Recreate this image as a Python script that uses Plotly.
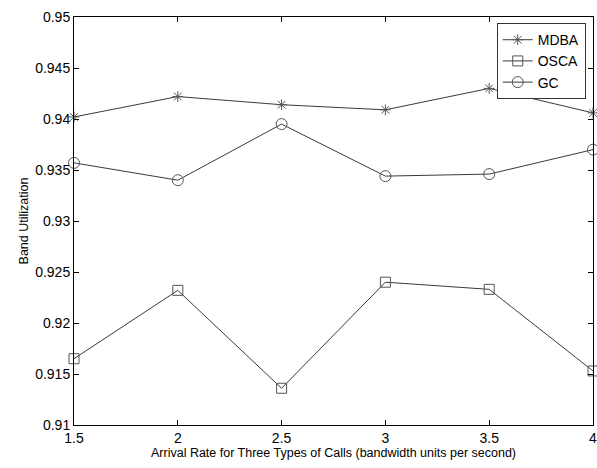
import plotly.graph_objects as go

arrival_rate = [1.5, 2, 2.5, 3, 3.5, 4]
mdba = [0.9402, 0.9422, 0.9414, 0.9409, 0.9430, 0.9406]
osca = [0.9165, 0.9232, 0.9136, 0.9240, 0.9233, 0.9153]
gc = [0.9357, 0.9340, 0.9395, 0.9344, 0.9346, 0.9370]

x_ticks = [1.5, 2, 2.5, 3, 3.5, 4]
x_ticktext = ["1.5", "2", "2.5", "3", "3.5", "4"]
y_ticks = [0.91, 0.915, 0.92, 0.925, 0.93, 0.935, 0.94, 0.945, 0.95]
y_ticktext = ["0.91", "0.915", "0.92", "0.925", "0.93", "0.935", "0.94", "0.945", "0.95"]

font_family = "Liberation Sans, Arial, sans-serif"
line_color = "#3a3a3a"
marker_color = "#555555"

fig = go.Figure()
fig.add_trace(go.Scatter(
    x=arrival_rate, y=mdba, name="MDBA", mode="lines+markers", cliponaxis=False,
    line=dict(color=line_color, width=1),
    marker=dict(symbol="asterisk-open", size=9, color=marker_color,
                line=dict(color=marker_color, width=1)),
))
fig.add_trace(go.Scatter(
    x=arrival_rate, y=osca, name="OSCA", mode="lines+markers", cliponaxis=False,
    line=dict(color=line_color, width=1),
    marker=dict(symbol="square-open", size=10, color=marker_color,
                line=dict(color=marker_color, width=1)),
))
fig.add_trace(go.Scatter(
    x=arrival_rate, y=gc, name="GC", mode="lines+markers", cliponaxis=False,
    line=dict(color=line_color, width=1),
    marker=dict(symbol="circle-open", size=11, color=marker_color,
                line=dict(color=marker_color, width=1)),
))

fig.update_layout(
    width=597, height=468,
    margin=dict(l=74, r=4, t=17, b=43, autoexpand=False),
    paper_bgcolor="white", plot_bgcolor="white",
    font=dict(family=font_family, size=13, color="black"),
    showlegend=True,
    legend=dict(
        x=0.986, y=0.985, xanchor="right", yanchor="top",
        bordercolor="#333333", borderwidth=1, bgcolor="white",
        font=dict(size=14, family=font_family),
        tracegroupgap=0, itemwidth=30,
    ),
)
fig.update_xaxes(
    range=[1.5, 4], tickvals=x_ticks, ticktext=x_ticktext,
    showgrid=False, zeroline=False, automargin=False,
    ticklabeloverflow="allow",
    showline=True, linecolor="black", linewidth=1, mirror="ticks",
    ticks="inside", ticklen=5, tickcolor="black",
    tickfont=dict(size=14),
    title=dict(text="Arrival Rate for Three Types of Calls (bandwidth units per second)",
               font=dict(size=12.5), standoff=3),
)
fig.update_yaxes(
    range=[0.91, 0.95], tickvals=y_ticks, ticktext=y_ticktext,
    showgrid=False, zeroline=False, automargin=False,
    ticklabeloverflow="allow",
    showline=True, linecolor="black", linewidth=1, mirror="ticks",
    ticks="inside", ticklen=5, tickcolor="black",
    tickfont=dict(size=14),
    title=dict(text="Band Utilization", font=dict(size=12.5), standoff=3),
)

page_fix = ("document.body.style.margin='0';"
            "document.body.style.overflow='hidden';"
            "document.documentElement.style.overflow='hidden';")
fig.write_html("out.html", post_script=page_fix,
               config={"displayModeBar": False, "staticPlot": True})
